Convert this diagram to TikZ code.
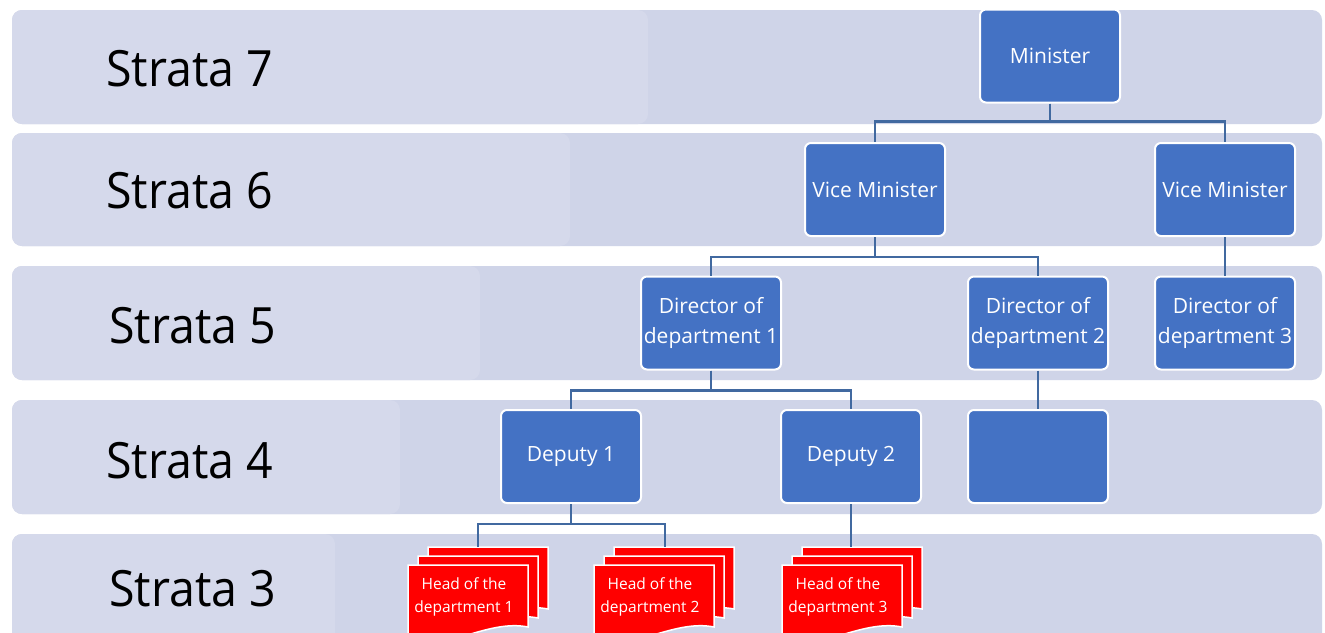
\documentclass[tikz,border=0pt]{standalone}
\usepackage{fontspec}
\setmainfont{Open Sans}
\definecolor{bandc}{RGB}{207,212,232}
\definecolor{bandlight}{RGB}{213,217,235}
\definecolor{boxblue}{RGB}{68,114,196}
\definecolor{linkblue}{RGB}{65,105,160}
\definecolor{docred}{RGB}{255,0,0}
\begin{document}
\begin{tikzpicture}[x=1pt,y=-1pt,
  post/.style={fill=boxblue, draw=white, line width=2pt, rounded corners=6pt,
    minimum width=140pt, minimum height=93pt, text=white, align=center,
    inner sep=2pt, font=\fontsize{21}{30}\selectfont},
  stratalabel/.style={anchor=west, inner sep=0pt, text=black,
    font=\fontsize{50}{58}\selectfont, xscale=0.93},
  headlabel/.style={text=white, align=center, inner sep=0pt,
    font=\fontsize{15.5}{23}\selectfont},
  link/.style={draw=linkblue, line width=2.5pt},
  docsheet/.pic={\filldraw[fill=docred, draw=white, line width=1.5pt]
    (0,0) -- (120,0) -- (120,62) .. controls (80,54) and (40,86) .. (0,76) -- cycle;}
]
\clip (0,0) rectangle (1325,632);
\fill[white] (0,0) rectangle (1325,632);
% strata bands
\fill[bandc, rounded corners=10pt] (12,10) rectangle (1322,124);
\fill[bandlight, rounded corners=10pt] (12,10) rectangle (648,124);
\fill[bandc, rounded corners=10pt] (12,133) rectangle (1322,246);
\fill[bandlight, rounded corners=10pt] (12,133) rectangle (570,246);
\fill[bandc, rounded corners=10pt] (12,266) rectangle (1322,380);
\fill[bandlight, rounded corners=10pt] (12,266) rectangle (480,380);
\fill[bandc, rounded corners=10pt] (12,400) rectangle (1322,514);
\fill[bandlight, rounded corners=10pt] (12,400) rectangle (400,514);
\fill[bandc, rounded corners=10pt] (12,534) rectangle (1322,670);
\fill[bandlight, rounded corners=10pt] (12,534) rectangle (335,670);
% strata labels
\node[stratalabel] (s7) at (106,69) {Strata 7};
\node[stratalabel] (s6) at (106,191) {Strata 6};
\node[stratalabel] (s5) at (109,326) {Strata 5};
\node[stratalabel] (s4) at (106,461) {Strata 4};
\node[stratalabel] (s3) at (109,589) {Strata 3};
% boxes
\node[post] (min) at (1050,56) {Minister};
\node[post] (vm1) at (875,189.5) {Vice Minister};
\node[post] (vm2) at (1225,189.5) {Vice Minister};
\node[post] (d1) at (711,323) {Director of\\department 1};
\node[post] (d2) at (1038,323) {Director of\\department 2};
\node[post] (d3) at (1225,323) {Director of\\department 3};
\node[post] (dep1) at (571,456.5) {Deputy 1};
\node[post] (dep2) at (851,456.5) {Deputy 2};
\node[post] (emp) at (1038,456.5) {};
% heads of department (stacked documents)
\pic at (428,547) {docsheet};
\pic at (418,556) {docsheet};
\pic at (408,565) {docsheet};
\pic at (614,547) {docsheet};
\pic at (604,556) {docsheet};
\pic at (594,565) {docsheet};
\pic at (802,547) {docsheet};
\pic at (792,556) {docsheet};
\pic at (782,565) {docsheet};
\node[headlabel] (h1) at (464,597) {Head of the\\department 1};
\node[headlabel] (h2) at (650,597) {Head of the\\department 2};
\node[headlabel] (h3) at (838,597) {Head of the\\department 3};
\coordinate (h1top) at (478,547);
\coordinate (h2top) at (665,547);
\coordinate (h3top) at (851,547);
% connectors
\draw[link] (min.south) -- ++(0,18) -| (vm1.north);
\draw[link] (min.south) -- ++(0,18) -| (vm2.north);
\draw[link] (vm1.south) -- ++(0,20) -| (d1.north);
\draw[link] (vm1.south) -- ++(0,20) -| (d2.north);
\draw[link] (vm2.south) -- (d3.north);
\draw[link] (d1.south) -- ++(0,20) -| (dep1.north);
\draw[link] (d1.south) -- ++(0,20) -| (dep2.north);
\draw[link] (d2.south) -- (emp.north);
\draw[link] (dep1.south) -- ++(0,20) -| (h1top);
\draw[link] (dep1.south) -- ++(0,20) -| (h2top);
\draw[link] (dep2.south) -- (h3top);
\end{tikzpicture}
\end{document}
